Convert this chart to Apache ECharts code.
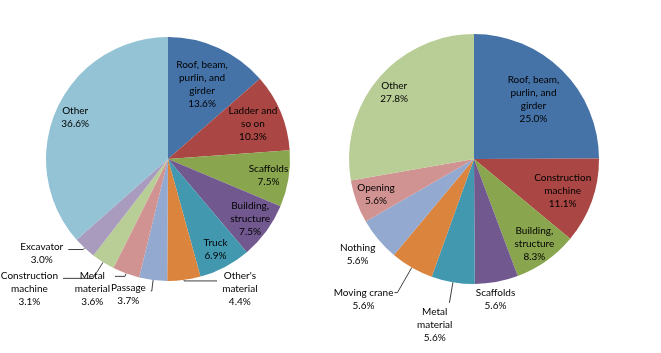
<!DOCTYPE html>
<html>
<head>
<meta charset="utf-8">
<script src="https://cdn.jsdelivr.net/npm/echarts@6/dist/echarts.min.js"></script>
<style>
  html, body { margin: 0; padding: 0; background: #fff; }
  #main { width: 661px; height: 353px; }
</style>
</head>
<body>
<div id="main"></div>
<script>
// left pie: clockwise from 12 o'clock
var leftNames = ['Roof, beam,\npurlin, and\ngirder', 'Ladder and\nso on', 'Scaffolds', 'Building,\nstructure', 'Truck',
  "Other's\nmaterial", 'Passage', 'Metal\nmaterial', 'Construction\nmachine', 'Excavator', 'Other'];
var leftValues = [13.6, 10.3, 7.5, 7.5, 6.9, 4.4, 3.7, 3.6, 3.1, 3.0, 36.6];

// right pie
var rightNames = ['Roof, beam,\npurlin, and\ngirder', 'Construction\nmachine', 'Building,\nstructure', 'Scaffolds',
  'Metal\nmaterial', 'Moving crane', 'Nothing', 'Opening', 'Other'];
var rightValues = [25.0, 11.1, 8.3, 5.6, 5.6, 5.6, 5.6, 5.6, 27.8];

var leftColors = ['#4572A7', '#AA4643', '#89A54E', '#71588F', '#4198AF', '#DB843D', '#93A9CF', '#D19392', '#B9CD96', '#A99BBD', '#93C3D5'];
var rightColors = ['#4572A7', '#AA4643', '#89A54E', '#71588F', '#4198AF', '#DB843D', '#93A9CF', '#D19392', '#B9CD96'];

var rich = { t: { fontFamily: 'Lato', fontSize: 10, lineHeight: 13, color: '#000', align: 'center' } };

function fmt(p) {
  var lines = p.name.split('\n');
  lines.push(p.value.toFixed(1) + '%');
  return lines.map(function (s) { return '{t|' + s + '}'; }).join('\n');
}

// outside labels (leader lines), by index
var leftOuter = {
  5: { pad: 16, len: 1, len2: 33, dist: 5, line: true },
  6: { pad: 7, len: 11, len2: 1, dist: 5, line: true },
  7: { pad: 25, len: 3, len2: 10, dist: 5, line: true },
  8: { pad: 21, len: 19, len2: 30, dist: 5, line: true },
  9: { pad: 8, len: 2, len2: 15, dist: 5, line: true }
};
var rightOuter = {
  3: { pad: 33, len: 1, len2: -21, dist: 0, line: false },
  4: { pad: 44, len: 21, len2: 0, dist: -3, line: true },
  5: { pad: 13, len: 29, len2: 3, dist: 1, line: true },
  6: { pad: 30, len: 0, len2: 1, dist: 2, line: false }
};

function pieSeries(center, r, names, values, colors, outer) {
  return {
    type: 'pie', center: center, radius: r, startAngle: 90, clockwise: true,
    avoidLabelOverlap: false, silent: true,
    itemStyle: { borderWidth: 0 },
    label: { show: false, position: 'outside', formatter: fmt, rich: rich },
    labelLine: { show: false, lineStyle: { color: '#404040', width: 1 } },
    data: names.map(function (n, i) {
      var d = { name: n, value: values[i], itemStyle: { color: colors[i] } };
      var o = outer[i];
      if (o) {
        d.label = { show: true, padding: [o.pad, 0, 0, 0], distanceToLabelLine: o.dist };
        d.labelLine = { show: o.line, length: o.len, length2: o.len2 };
      }
      return d;
    })
  };
}

// transparent ring that only carries the inside labels at a given fraction of the radius
function labelRing(center, r, names, values, idx, frac) {
  return {
    type: 'pie', center: center, radius: [(2 * frac - 1) * r, r], startAngle: 90, clockwise: true,
    avoidLabelOverlap: false, silent: true,
    itemStyle: { color: 'rgba(0,0,0,0)', borderWidth: 0 },
    label: { show: true, position: 'inside', formatter: fmt, rich: rich },
    labelLine: { show: false },
    data: names.map(function (n, i) {
      return { name: n, value: values[i], label: { show: idx.indexOf(i) >= 0 } };
    })
  };
}

var myChart = echarts.init(document.getElementById('main'));
var lc = [168, 159], lr = 122;
var rc = [474, 159], rr = 125;
var option = {
  animation: false,
  backgroundColor: '#fff',
  series: [
    pieSeries(lc, lr, leftNames, leftValues, leftColors, leftOuter),
    labelRing(lc, lr, leftNames, leftValues, [0], 0.65),
    labelRing(lc, lr, leftNames, leftValues, [1], 0.73),
    labelRing(lc, lr, leftNames, leftValues, [2, 3, 4, 10], 0.81),
    pieSeries(rc, rr, rightNames, rightValues, rightColors, rightOuter),
    labelRing(rc, rr, rightNames, rightValues, [0], 0.65),
    labelRing(rc, rr, rightNames, rightValues, [1], 0.73),
    labelRing(rc, rr, rightNames, rightValues, [2, 7, 8], 0.81)
  ]
};
myChart.setOption(option);
</script>
</body>
</html>
